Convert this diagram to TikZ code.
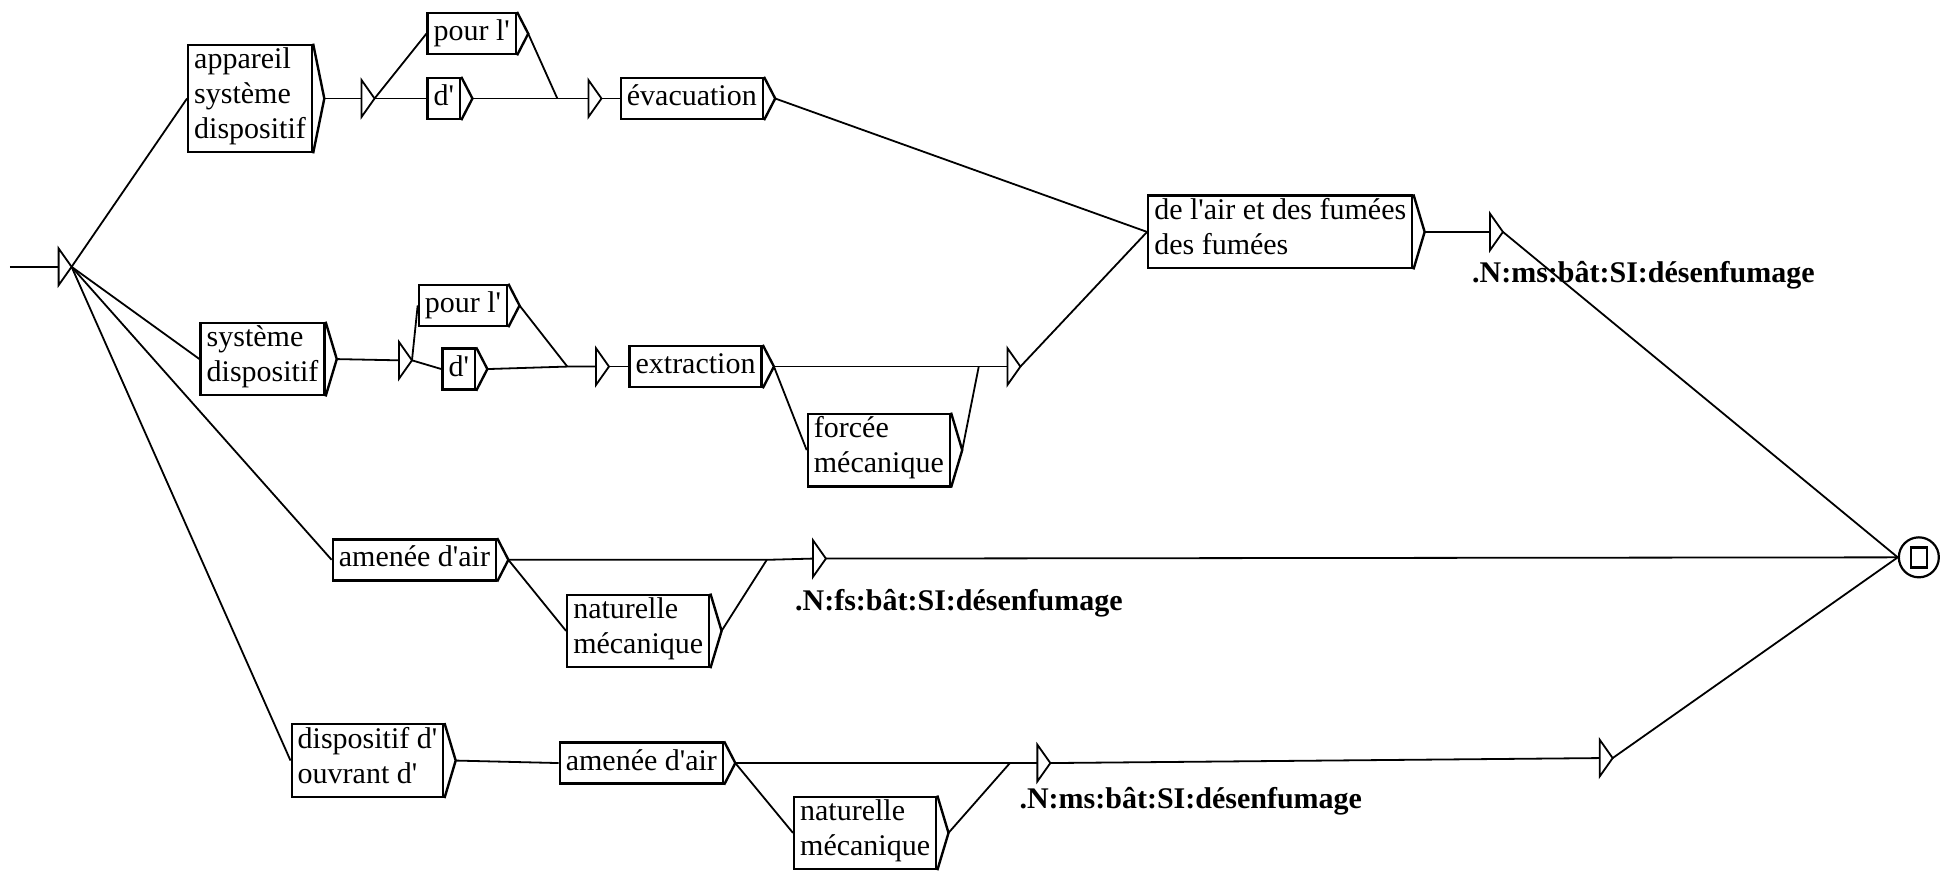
\documentclass[tikz,border=0pt]{standalone}
\usepackage{fontspec}
\setmainfont{Liberation Serif}
\usepackage{tikz}
\newcommand{\apo}{\textquotesingle}

\begin{document}
\begin{tikzpicture}[
    x=0.6234pt, y=-0.6234pt,
    line width=0.9pt,
    box/.style={rectangle, draw, line width=1.2pt, anchor=west, align=left,
        inner xsep=3pt, inner ysep=1.5pt, font=\fontsize{15}{17.5}\selectfont,
        execute at begin node=\strut, execute at end node=\strut},
    chev/.style={line width=1.2pt},
    eps/.style={rectangle, inner sep=0pt, minimum width=5.6pt, minimum height=17.5pt, anchor=west},
    fin/.style={circle, draw, line width=1.1pt, minimum size=20pt, inner sep=0pt},
    outlab/.style={anchor=west, inner sep=0pt, font=\bfseries\fontsize{15}{17.5}\selectfont}
]
    \useasboundingbox (0,0) rectangle (1568,707);

    % initial and final states
    \coordinate (in) at (8,214);
    \node[eps] (e0) at (47,214) {};
    \node[fin] (fin) at (1539,447) {};
    \draw[line width=1.3pt] ([shift={(-4pt,-5pt)}]fin.center) rectangle ([shift={(4pt,5pt)}]fin.center);

    % first path
    \node[box] (app) at (150,79) {appareil\\système\\dispositif};
    \node[eps] (e1) at (290,79) {};
    \node[box] (pour1) at (342,27) {pour l\apo};
    \node[box] (d1) at (342,79) {d\apo};
    \coordinate (j1) at (447,79);
    \node[eps] (e2) at (472,79) {};
    \node[box] (evac) at (497,79) {évacuation};
    \node[box] (air) at (920,186) {de l\apo air et des fumées\\des fumées};
    \node[eps] (e3) at (1195,186) {};
    \node[outlab] (lab1) at (1180,221) {.N:ms:bât:SI:désenfumage};

    % second path
    \node[box] (sys) at (160,288) {système\\dispositif};
    \node[eps] (e4) at (320,289) {};
    \node[box] (pour2) at (335,245) {pour l\apo};
    \node[box] (d2) at (354,296) {d\apo};
    \coordinate (j2) at (455,294);
    \node[eps] (e5) at (478,294) {};
    \node[box] (extr) at (504,294) {extraction};
    \node[box] (forc) at (647,361) {forcée\\mécanique};
    \coordinate (j3) at (785,294);
    \node[eps] (e6) at (808,294) {};

    % third path
    \node[box] (amen1) at (266,449) {amenée d\apo air};
    \node[box] (nat1) at (454,506) {naturelle\\mécanique};
    \coordinate (j4) at (615,449);
    \node[eps] (e7) at (652,448) {};
    \node[outlab] (lab2) at (637,484) {.N:fs:bât:SI:désenfumage};

    % fourth path
    \node[box] (disp) at (233,610) {dispositif d\apo\\ouvrant d\apo};
    \node[box] (amen2) at (448,612) {amenée d\apo air};
    \node[box] (nat2) at (636,668) {naturelle\\mécanique};
    \coordinate (j5) at (810,612);
    \node[eps] (e8) at (832,612) {};
    \node[outlab] (lab3) at (817,643) {.N:ms:bât:SI:désenfumage};
    \node[eps] (e9) at (1283,608) {};

    % box tips and empty transitions
    \foreach \n in {app,pour1,d1,evac,air,sys,pour2,d2,extr,forc,amen1,nat1,disp,amen2,nat2} {
        \draw[chev] (\n.north east) -- ([xshift=5.6pt]\n.east) -- (\n.south east);
        \coordinate (\n-o) at ([xshift=5.6pt]\n.east);
    }
    \foreach \n in {e0,e1,e2,e3,e4,e5,e6,e7,e8,e9}
        \draw (\n.north west) -- (\n.east) -- (\n.south west) -- cycle;

    % transitions
    \draw (in) -- (e0.west);
    \foreach \t in {app,sys,amen1,disp}
        \draw (e0.east) -- (\t.west);
    \draw (app-o) -- (e1.west);
    \draw (e1.east) -- (pour1.west);
    \draw (e1.east) -- (d1.west);
    \draw (pour1-o) -- (j1);
    \draw (d1-o) -- (j1) -- (e2.west);
    \draw (e2.east) -- (evac.west);
    \draw (evac-o) -- (air.west);
    \draw (sys-o) -- (e4.west);
    \draw (e4.east) -- (pour2.west);
    \draw (e4.east) -- (d2.west);
    \draw (pour2-o) -- (j2);
    \draw (d2-o) -- (j2) -- (e5.west);
    \draw (e5.east) -- (extr.west);
    \draw (extr-o) -- (j3) -- (e6.west);
    \draw (extr-o) -- (forc.west);
    \draw (forc-o) -- (j3);
    \draw (e6.east) -- (air.west);
    \draw (air-o) -- (e3.west);
    \draw (e3.east) -- (fin.west);
    \draw (amen1-o) -- (j4) -- (e7.west);
    \draw (amen1-o) -- (nat1.west);
    \draw (nat1-o) -- (j4);
    \draw (e7.east) -- (fin.west);
    \draw (disp-o) -- (amen2.west);
    \draw (amen2-o) -- (j5) -- (e8.west);
    \draw (amen2-o) -- (nat2.west);
    \draw (nat2-o) -- (j5);
    \draw (e8.east) -- (e9.west);
    \draw (e9.east) -- (fin.west);
\end{tikzpicture}
\end{document}
